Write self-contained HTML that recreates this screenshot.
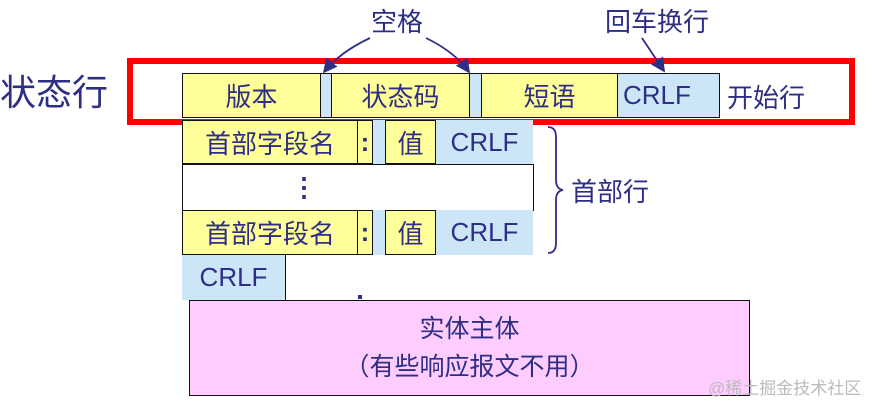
<!DOCTYPE html>
<html><head><meta charset="utf-8"><style>
body{margin:0;width:888px;height:410px;background:#fff;position:relative;overflow:hidden;font-family:"Liberation Sans","Noto Sans CJK SC",sans-serif;color:#2e2e85}
.b{position:absolute;box-sizing:border-box;display:flex;align-items:center;justify-content:center;font-size:26px}
.y{background:#ffff99;border:1.5px solid #111}
.l{background:#cce6f8}
.w{background:#fff;border:1.5px solid #111}
.t{position:absolute;white-space:nowrap}
</style></head><body>
<div class="t" style="left:0;top:64px;font-size:36px">状态行</div>
<div class="t" style="left:371px;top:2px;font-size:26px">空格</div>
<div class="t" style="left:605px;top:2px;font-size:26px">回车换行</div>

<div class="b l" style="left:182px;top:73px;width:538px;height:45px;border:1.5px solid #111"></div>
<div class="b y" style="left:182px;top:73px;width:139px;height:45px">版本</div>
<div class="b y" style="left:331px;top:73px;width:139px;height:45px">状态码</div>
<div class="b y" style="left:481px;top:73px;width:137px;height:45px">短语</div>
<div class="b" style="left:617px;top:73px;width:103px;height:45px;justify-content:flex-start;padding-left:6px">CRLF</div>
<div class="t" style="left:727px;top:78px;font-size:26px">开始行</div>
<div style="position:absolute;left:127px;top:58px;width:728px;height:67px;box-sizing:border-box;border:6px solid #f00"></div>

<div class="b l" style="left:182px;top:120px;width:351px;height:44px"></div>
<div class="b y" style="left:182px;top:120px;width:176px;height:44px">首部字段名</div>
<div class="b y" style="left:357px;top:120px;width:16px;height:44px;font-weight:bold">:</div>
<div class="b y" style="left:385px;top:120px;width:51px;height:44px">值</div>
<div class="b" style="left:436px;top:120px;width:97px;height:44px">CRLF</div>

<div class="b w" style="left:182px;top:164px;width:352px;height:47px;font-size:26px;font-weight:bold;justify-content:flex-start;padding-left:108px">⋮</div>

<div class="b l" style="left:182px;top:210px;width:351px;height:45px"></div>
<div class="b y" style="left:182px;top:210px;width:176px;height:45px">首部字段名</div>
<div class="b y" style="left:357px;top:210px;width:16px;height:45px;font-weight:bold">:</div>
<div class="b y" style="left:385px;top:210px;width:51px;height:45px">值</div>
<div class="b" style="left:436px;top:210px;width:97px;height:45px">CRLF</div>

<div class="b l" style="left:182px;top:255px;width:104px;height:45px;border-right:1.5px solid #111">CRLF</div>
<div style="position:absolute;left:358px;top:295px;width:4px;height:4px;background:#2e2e85"></div>

<div class="b" style="left:189px;top:300px;width:561px;height:96px;background:#ffccff;border:1.5px solid #111;flex-direction:column;line-height:38px;font-size:25px"><div>实体主体</div><div>（有些响应报文不用）</div></div>
<div class="t" style="left:708px;top:374px;font-size:17px;color:#bbb">@稀土掘金技术社区</div>

<svg style="position:absolute;left:0;top:0" width="888" height="410">
<defs><marker id="a" markerWidth="8" markerHeight="8" refX="7" refY="4" orient="auto"><path d="M0,0L8,4L0,8z" fill="#2e2e85"/></marker></defs>
<g stroke="#2e2e85" stroke-width="1.8" fill="none">
<path d="M370,38 Q340,52 324,72" marker-end="url(#a)"/>
<path d="M426,38 Q455,52 469,72" marker-end="url(#a)"/>
<path d="M642,38 L664,71" marker-end="url(#a)"/>
<path d="M548,127 Q556,127 556,137 L556,180 Q556,189 563,190 Q556,191 556,200 L556,243 Q556,253 548,253"/>
</g></svg>
<div class="t" style="left:571px;top:172px;font-size:26px">首部行</div>
</body></html>
